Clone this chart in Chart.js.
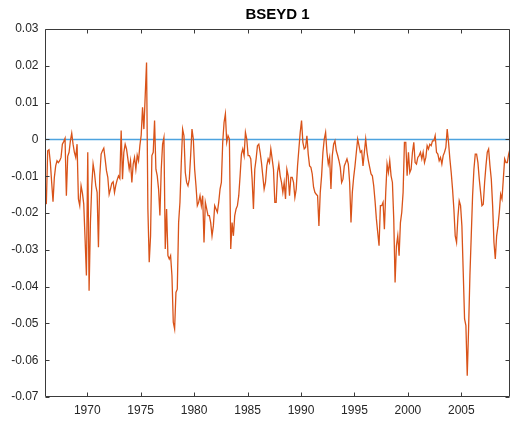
<!DOCTYPE html>
<html><head><meta charset="utf-8">
<script src="https://cdn.jsdelivr.net/npm/chart.js@4/dist/chart.umd.min.js"></script>
<style>html,body{margin:0;padding:0;background:#fff;overflow:hidden}#wrap{width:511px;height:425px;position:relative}</style>
</head><body><div id="wrap"><canvas id="c" width="511" height="425"></canvas></div>
<script>
// ---- data ----
const chartTitle = 'BSEYD 1';
const startYear = 1966.05;      // first sample
const sampleStep = 0.125;       // years between samples
const values1966to1976 = [-0.0126,-0.0176,-0.0031,-0.0028,-0.0063,-0.0117,-0.0169,-0.0103,-0.0072,-0.0058,
  -0.0063,-0.0058,-0.0049,-0.0013,-0.0006,0.0003,-0.0153,-0.0046,-0.0035,-0.0004,
  0.0017,-0.0013,-0.0035,-0.0049,-0.0013,-0.0162,-0.0180,-0.0126,-0.0146,-0.0176,
  -0.0271,-0.0370,-0.0035,-0.0411,-0.0226,-0.0126,-0.0067,-0.0090,-0.0126,-0.0144,
  -0.0293,-0.0099,-0.0040,-0.0031,-0.0024,-0.0053,-0.0085,-0.0103,-0.0149,-0.0135,
  -0.0119,-0.0115,-0.0144,-0.0124,-0.0110,-0.0099,-0.0106,0.0024,-0.0108,-0.0035,
  -0.0013,-0.0026,-0.0052,-0.0081,-0.0058,-0.0117,-0.0067,-0.0049,-0.0081,-0.0043,
  -0.0058,-0.0017,0.0012,0.0087,0.0028,0.0119,0.0209,-0.0189,-0.0334,-0.0262,
  -0.0044,-0.0035,0.0051,-0.0081,-0.0099,-0.0135,-0.0207,-0.0081];
const values1977to1987 = [-0.0013,0.0005,-0.0298,-0.0189,-0.0316,-0.0325,-0.0316,-0.0370,-0.0497,-0.0515,
  -0.0416,-0.0407,-0.0226,-0.0171,-0.0063,0.0028,0.0010,-0.0090,-0.0117,-0.0126,
  -0.0108,-0.0044,0.0028,0.0001,-0.0081,-0.0126,-0.0180,-0.0171,-0.0153,-0.0180,
  -0.0153,-0.0280,-0.0171,-0.0189,-0.0207,-0.0207,-0.0226,-0.0262,-0.0235,-0.0180,
  -0.0189,-0.0198,-0.0171,-0.0135,-0.0117,-0.0008,0.0046,0.0069,-0.0008,0.0010,
  0.0001,-0.0298,-0.0226,-0.0262,-0.0207,-0.0189,-0.0180,-0.0153,-0.0099,-0.0040,
  -0.0026,-0.0044,0.0019,0.0001,-0.0044,-0.0044,-0.0053,-0.0108,-0.0189,-0.0081,
  -0.0053,-0.0017,-0.0013,-0.0035,-0.0063,-0.0099,-0.0135,-0.0117,-0.0072,-0.0053,
  -0.0063,-0.0026,-0.0053,-0.0081,-0.0171];
const values1988to1998 = [-0.0171,-0.0090,-0.0067,-0.0099,-0.0117,-0.0144,-0.0117,-0.0162,-0.0081,-0.0099,
  -0.0153,-0.0103,-0.0103,-0.0117,-0.0158,-0.0135,-0.0072,-0.0026,0.0019,0.0051,
  -0.0008,-0.0026,-0.0022,0.0010,-0.0040,-0.0072,-0.0076,-0.0094,-0.0130,-0.0144,
  -0.0149,-0.0153,-0.0235,-0.0144,-0.0099,-0.0035,0.0001,0.0019,-0.0035,-0.0067,
  -0.0049,-0.0135,-0.0044,-0.0013,-0.0004,-0.0031,-0.0043,-0.0058,-0.0076,-0.0117,
  -0.0108,-0.0072,-0.0063,-0.0053,-0.0067,-0.0117,-0.0226,-0.0144,-0.0103,-0.0072,
  -0.0035,0.0001,-0.0017,-0.0035,-0.0031,-0.0072,-0.0035,0.0001,-0.0035,-0.0058,
  -0.0076,-0.0094,-0.0099,-0.0126,-0.0167,-0.0216,-0.0253,-0.0289,-0.0180,-0.0180,
  -0.0171,-0.0244,-0.0144,-0.0067,-0.0090,-0.0058,-0.0099];
const values1999to2009 = [-0.0117,-0.0216,-0.0389,-0.0289,-0.0262,-0.0316,-0.0226,-0.0198,-0.0144,-0.0008,
  -0.0008,-0.0099,-0.0035,-0.0090,-0.0081,-0.0035,-0.0008,-0.0063,-0.0067,-0.0049,
  -0.0044,-0.0035,-0.0053,-0.0035,-0.0063,-0.0049,-0.0017,-0.0026,-0.0013,-0.0017,
  -0.0004,-0.0004,0.0010,-0.0035,-0.0040,-0.0058,-0.0049,-0.0067,-0.0044,-0.0035,
  -0.0022,0.0028,-0.0008,-0.0053,-0.0090,-0.0135,-0.0189,-0.0262,-0.0280,-0.0212,
  -0.0167,-0.0180,-0.0235,-0.0361,-0.0488,-0.0506,-0.0642,-0.0515,-0.0370,-0.0262,
  -0.0153,-0.0081,-0.0040,-0.0040,-0.0063,-0.0108,-0.0144,-0.0180,-0.0176,-0.0117,
  -0.0072,-0.0035,-0.0026,-0.0072,-0.0108,-0.0180,-0.0280,-0.0325,-0.0262,-0.0235,
  -0.0198,-0.0149,-0.0162,-0.0108,-0.0053,-0.0063,-0.0063,-0.0040,-0.0026];
const referenceLevel = 0;
const xTickYears = [1970, 1975, 1980, 1985, 1990, 1995, 2000, 2005];
const yTickValues = [0.03, 0.02, 0.01, 0, -0.01, -0.02, -0.03, -0.04, -0.05, -0.06, -0.07];
const xRange = [1966.05, 2009.55];
const yRange = [-0.07, 0.03];

// ---- build datasets ----
const allValues = [].concat(values1966to1976, values1977to1987, values1988to1998, values1999to2009);
const seriesPoints = allValues.map((v, i) => ({ x: startYear + i * sampleStep, y: v }));
const zeroPoints = [{ x: xRange[0], y: referenceLevel }, { x: xRange[1], y: referenceLevel }];

const FONT = '"Liberation Sans", Arial, Helvetica, sans-serif';
const AXIS_COLOR = '#262626';

const boxPlugin = {
  id: 'matlabBox',
  afterDatasetsDraw(chart) {
    const { ctx, chartArea: a, scales } = chart;
    ctx.save();
    ctx.strokeStyle = '#3a3a3a';
    ctx.lineWidth = 1;
    const L = Math.round(a.left) + 0.5, R = Math.round(a.right) - 0.5;
    const T = Math.round(a.top) + 0.5, B = Math.round(a.bottom) - 0.5;
    ctx.beginPath();
    ctx.rect(L, T, R - L, B - T);
    const tl = 4;
    xTickYears.forEach(v => {
      const px = Math.round(scales.x.getPixelForValue(v)) + 0.5;
      ctx.moveTo(px, B); ctx.lineTo(px, B - tl);
      ctx.moveTo(px, T); ctx.lineTo(px, T + tl);
    });
    yTickValues.forEach(v => {
      const py = Math.round(scales.y.getPixelForValue(v)) + 0.5;
      ctx.moveTo(L, py); ctx.lineTo(L + tl, py);
      ctx.moveTo(R, py); ctx.lineTo(R - tl, py);
    });
    ctx.stroke();
    ctx.restore();
  }
};

new Chart(document.getElementById('c'), {
  type: 'line',
  data: {
    datasets: [
      { label: 'BSEYD', data: seriesPoints, borderColor: '#D95319', backgroundColor: '#D95319', borderWidth: 1.3,
        pointRadius: 0, pointHoverRadius: 0, tension: 0, fill: false, order: 0 },
      { label: 'zero', data: zeroPoints, borderColor: '#4DA3DF', backgroundColor: '#4DA3DF', borderWidth: 1.5,
        pointRadius: 0, pointHoverRadius: 0, tension: 0, fill: false, order: 1 }
    ]
  },
  options: {
    responsive: false,
    animation: false,
    devicePixelRatio: 1,
    layout: { padding: { left: 0, right: 1, top: 0, bottom: 0 } },
    plugins: {
      legend: { display: false },
      tooltip: { enabled: false },
      title: { display: true, text: chartTitle, color: '#000', fullSize: false,
        font: { family: FONT, size: 15, weight: 'bold', lineHeight: 1.2 },
        padding: { top: 6, bottom: 5 } }
    },
    scales: {
      x: {
        type: 'linear', min: xRange[0], max: xRange[1],
        afterBuildTicks: s => { s.ticks = xTickYears.map(v => ({ value: v })); },
        afterFit: s => { s.height = 28; },
        grid: { display: false, drawTicks: false, tickLength: 0 }, border: { display: false },
        ticks: { color: AXIS_COLOR, font: { family: FONT, size: 12 }, padding: 6, maxRotation: 0,
          callback: v => String(v) }
      },
      y: {
        type: 'linear', min: yRange[0], max: yRange[1],
        afterBuildTicks: s => { s.ticks = yTickValues.map(v => ({ value: v })); },
        afterFit: s => { s.width = 45; },
        grid: { display: false, drawTicks: false, tickLength: 0 }, border: { display: false },
        ticks: { color: AXIS_COLOR, font: { family: FONT, size: 12 }, padding: 6.5,
          callback: v => Math.abs(v) < 1e-9 ? '0' : v.toFixed(2) }
      }
    }
  },
  plugins: [boxPlugin]
});
</script>
</body></html>
